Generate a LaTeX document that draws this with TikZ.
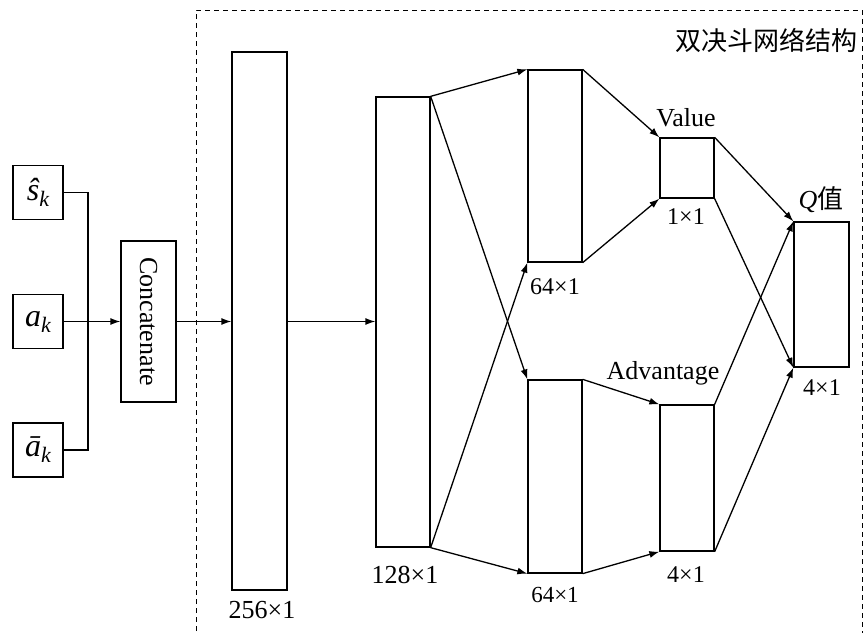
\documentclass[tikz,border=0pt]{standalone}
\usepackage{fontspec}
\setmainfont{Liberation Serif}
\newfontfamily\cjk{Noto Sans CJK SC}
\usetikzlibrary{arrows.meta}
\newcommand{\subk}{\raisebox{-6pt}{\fontsize{22}{24}\selectfont\itshape k}}
\begin{document}
\begin{tikzpicture}[x=1pt,y=-1pt,
  box/.style={draw,line width=1.3pt,rectangle,inner sep=0pt},
  inbox/.style={box,minimum width=50pt,minimum height=54pt,font=\fontsize{32}{34}\selectfont\itshape},
  lbl/.style={inner sep=0pt,font=\fontsize{26}{30}\selectfont},
  conn/.style={line width=1.3pt},
  arr/.style={line width=1.3pt,-{Latex[length=10pt,width=7pt]}}]
\useasboundingbox (0,0) rectangle (864,632);
% dashed frame
\draw[line width=1pt,dash pattern=on 5pt off 4pt] (196,640) -- (196,10) -- (862,10) -- (862,640);
\node[lbl,anchor=east,font=\cjk\fontsize{26}{30}\selectfont] (title) at (858,40) {双决斗网络结构};
% inputs
\node[inbox] (s) at (38,192.5) {ŝ\subk};
\node[inbox] (a) at (38,321.5) {a\subk};
\node[inbox] (ab) at (38,450) {ā\subk};
\node[box,minimum width=55pt,minimum height=161pt] (cat) at (148.5,321.5) {};
\node[lbl,rotate=-90] (cattxt) at (cat.center) {Concatenate};
\coordinate (j) at (88,321.5);
\draw[conn] (s.east) -| (j) |- (ab.east);
\draw[arr] (a.east) -- (cat.west);
% layers
\node[box,minimum width=55pt,minimum height=538pt] (b256) at (259.5,321) {};
\node[box,minimum width=54pt,minimum height=450pt] (b128) at (403,322) {};
\node[box,minimum width=54pt,minimum height=192pt] (u64) at (555,166) {};
\node[box,minimum width=54pt,minimum height=193pt] (l64) at (555,476.5) {};
\node[box,minimum width=54pt,minimum height=60pt] (val) at (687,168) {};
\node[box,minimum width=54pt,minimum height=146pt] (adv) at (687,478) {};
\node[box,minimum width=55pt,minimum height=145pt] (q) at (821.5,294.5) {};
% labels
\node[lbl] (l256) at (262,610) {256×1};
\node[lbl] (l128) at (405,575) {128×1};
\node[lbl,font=\fontsize{24}{28}\selectfont] (lu64) at (555,287) {64×1};
\node[lbl,font=\fontsize{23}{28}\selectfont] (ll64) at (555,595) {64×1};
\node[lbl] (lval) at (686,118) {Value};
\node[lbl,font=\fontsize{24}{28}\selectfont] (lval2) at (686,217) {1×1};
\node[lbl] (ladv) at (663,373) {Advantage};
\node[lbl,font=\fontsize{24}{28}\selectfont] (ladv2) at (686,575) {4×1};
\node[lbl] (lq) at (821,200) {\textit{Q}\cjk 值};
\node[lbl,font=\fontsize{24}{28}\selectfont] (lq2) at (822,388) {4×1};
% connectors
\draw[arr] (cat.east) -- (b256.west |- cat.east);
\draw[arr] (b256.east |- cat.east) -- (b128.west |- cat.east);
\draw[arr] (b128.north east) -- (u64.north west);
\draw[arr] (b128.north east) -- (l64.north west);
\draw[arr] (b128.south east) -- (u64.south west);
\draw[arr] (b128.south east) -- (l64.south west);
\draw[arr] (u64.north east) -- (val.north west);
\draw[arr] (u64.south east) -- (val.south west);
\draw[arr] (l64.north east) -- (adv.north west);
\draw[arr] (l64.south east) -- (adv.south west);
\draw[arr] (val.north east) -- (q.north west);
\draw[arr] (val.south east) -- (q.south west);
\draw[arr] (adv.north east) -- (q.north west);
\draw[arr] (adv.south east) -- (q.south west);
\end{tikzpicture}
\end{document}
